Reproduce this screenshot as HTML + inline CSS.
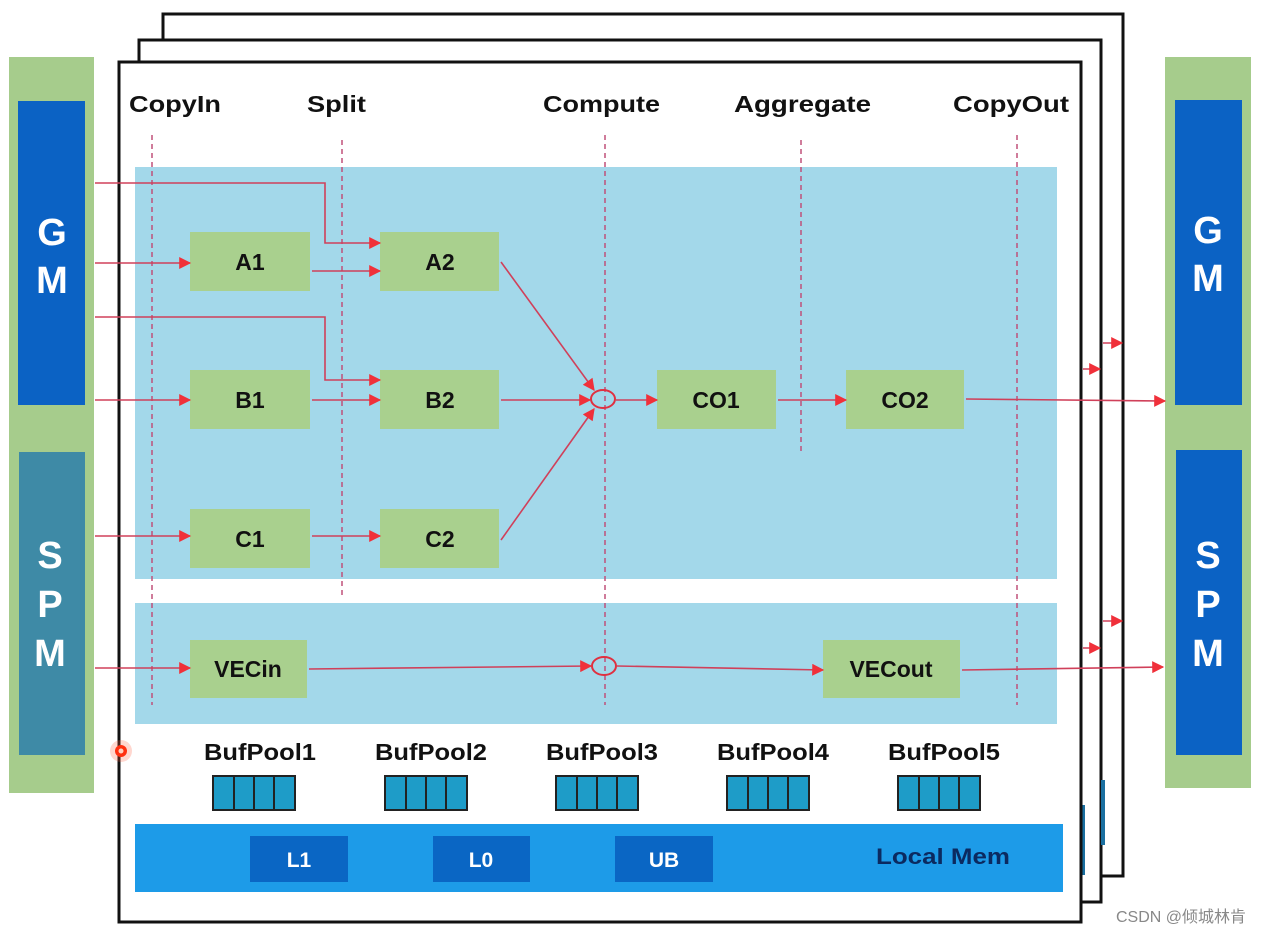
<!DOCTYPE html>
<html><head><meta charset="utf-8"><style>
html,body{margin:0;padding:0;background:#fff;width:1266px;height:934px;overflow:hidden}
svg{display:block}
text{font-family:"Liberation Sans","Noto Sans CJK SC",sans-serif;font-weight:bold}
</style></head><body>
<svg width="1266" height="934" viewBox="0 0 1266 934" xmlns="http://www.w3.org/2000/svg">
<defs>
<marker id="ar" viewBox="0 0 10 10" refX="9" refY="5" markerWidth="16" markerHeight="12" markerUnits="userSpaceOnUse" orient="auto">
<path d="M0,0 L10,5 L0,10 z" fill="#f0303a"/></marker>
</defs>
<rect x="163" y="14" width="960" height="862" fill="#fff" stroke="#111" stroke-width="3"/>
<rect x="139" y="40" width="962" height="862" fill="#fff" stroke="#111" stroke-width="3"/>
<rect x="1101" y="780" width="4" height="65" fill="#1a6fa0"/>
<rect x="1081" y="805" width="4" height="70" fill="#1a6fa0"/>
<rect x="119" y="62" width="962" height="860" fill="#fff" stroke="#111" stroke-width="3"/>
<rect x="9" y="57" width="85" height="736" fill="#a6cc8c"/>
<rect x="18" y="101" width="67" height="304" fill="#0b62c4"/>
<rect x="19" y="452" width="66" height="303" fill="#3e8aa6"/>
<rect x="1165" y="57" width="86" height="731" fill="#a6cc8c"/>
<rect x="1175" y="100" width="67" height="305" fill="#0b62c4"/>
<rect x="1176" y="450" width="66" height="305" fill="#0b62c4"/>
<g fill="#fff" font-size="38" text-anchor="middle">
<text x="52" y="245">G</text><text x="52" y="293">M</text>
<text x="50" y="568">S</text><text x="50" y="617">P</text><text x="50" y="666">M</text>
<text x="1208" y="243">G</text><text x="1208" y="291">M</text>
<text x="1208" y="568">S</text><text x="1208" y="617">P</text><text x="1208" y="666">M</text>
</g>
<rect x="135" y="167" width="922" height="412" fill="#a3d8ea"/>
<rect x="135" y="603" width="922" height="121" fill="#a3d8ea"/>
<g font-size="23" fill="#111" lengthAdjust="spacingAndGlyphs">
<text x="129" y="112" textLength="92" lengthAdjust="spacingAndGlyphs">CopyIn</text>
<text x="307" y="112" textLength="59" lengthAdjust="spacingAndGlyphs">Split</text>
<text x="543" y="112" textLength="117" lengthAdjust="spacingAndGlyphs">Compute</text>
<text x="734" y="112" textLength="137" lengthAdjust="spacingAndGlyphs">Aggregate</text>
<text x="953" y="112" textLength="116" lengthAdjust="spacingAndGlyphs">CopyOut</text>
</g>
<g stroke="#c0507a" stroke-width="1.5" stroke-dasharray="5,4">
<line x1="152" y1="135" x2="152" y2="705"/>
<line x1="342" y1="140" x2="342" y2="595"/>
<line x1="605" y1="135" x2="605" y2="705"/>
<line x1="801" y1="140" x2="801" y2="453"/>
<line x1="1017" y1="135" x2="1017" y2="705"/>
</g>
<g fill="#a9d08e">
<rect x="190" y="232" width="120" height="59"/>
<rect x="380" y="232" width="119" height="59"/>
<rect x="190" y="370" width="120" height="59"/>
<rect x="380" y="370" width="119" height="59"/>
<rect x="190" y="509" width="120" height="59"/>
<rect x="380" y="509" width="119" height="59"/>
<rect x="657" y="370" width="119" height="59"/>
<rect x="846" y="370" width="118" height="59"/>
<rect x="190" y="640" width="117" height="58"/>
<rect x="823" y="640" width="137" height="58"/>
</g>
<g font-size="23" fill="#111" text-anchor="middle">
<text x="250" y="270">A1</text><text x="440" y="270">A2</text>
<text x="250" y="408">B1</text><text x="440" y="408">B2</text>
<text x="250" y="547">C1</text><text x="440" y="547">C2</text>
<text x="716" y="408">CO1</text><text x="905" y="408">CO2</text>
<text x="248" y="677">VECin</text><text x="891" y="677">VECout</text>
</g>
<g stroke="#d0405a" stroke-width="1.6" fill="none">
<line x1="95" y1="263" x2="190" y2="263" marker-end="url(#ar)"/>
<line x1="95" y1="400" x2="190" y2="400" marker-end="url(#ar)"/>
<line x1="95" y1="536" x2="190" y2="536" marker-end="url(#ar)"/>
<line x1="95" y1="668" x2="190" y2="668" marker-end="url(#ar)"/>
<polyline points="95,183 325,183 325,243 380,243" marker-end="url(#ar)"/>
<polyline points="95,317 325,317 325,380 380,380" marker-end="url(#ar)"/>
<line x1="312" y1="271" x2="380" y2="271" marker-end="url(#ar)"/>
<line x1="312" y1="400" x2="380" y2="400" marker-end="url(#ar)"/>
<line x1="312" y1="536" x2="380" y2="536" marker-end="url(#ar)"/>
<line x1="501" y1="262" x2="594" y2="390" marker-end="url(#ar)"/>
<line x1="501" y1="400" x2="590" y2="400" marker-end="url(#ar)"/>
<line x1="501" y1="540" x2="594" y2="409" marker-end="url(#ar)"/>
<line x1="616" y1="400" x2="657" y2="400" marker-end="url(#ar)"/>
<line x1="778" y1="400" x2="846" y2="400" marker-end="url(#ar)"/>
<line x1="966" y1="399" x2="1165" y2="401" marker-end="url(#ar)"/>
<line x1="309" y1="669" x2="591" y2="666" marker-end="url(#ar)"/>
<line x1="617" y1="666" x2="823" y2="670" marker-end="url(#ar)"/>
<line x1="962" y1="670" x2="1163" y2="667" marker-end="url(#ar)"/>
<line x1="1083" y1="369" x2="1100" y2="369" marker-end="url(#ar)"/>
<line x1="1103" y1="343" x2="1122" y2="343" marker-end="url(#ar)"/>
<line x1="1083" y1="648" x2="1100" y2="648" marker-end="url(#ar)"/>
<line x1="1103" y1="621" x2="1122" y2="621" marker-end="url(#ar)"/>
</g>
<ellipse cx="603" cy="399" rx="12" ry="9" fill="none" stroke="#e03040" stroke-width="2"/>
<ellipse cx="604" cy="666" rx="12" ry="9" fill="none" stroke="#e03040" stroke-width="2"/>
<circle cx="121" cy="751" r="11" fill="#ff6040" opacity="0.25"/>
<circle cx="121" cy="751" r="6" fill="#ff3010"/>
<circle cx="121" cy="751" r="2.5" fill="#ffd0c0"/>
<g font-size="23" fill="#111">
<text x="204" y="760" textLength="112" lengthAdjust="spacingAndGlyphs">BufPool1</text>
<text x="375" y="760" textLength="112" lengthAdjust="spacingAndGlyphs">BufPool2</text>
<text x="546" y="760" textLength="112" lengthAdjust="spacingAndGlyphs">BufPool3</text>
<text x="717" y="760" textLength="112" lengthAdjust="spacingAndGlyphs">BufPool4</text>
<text x="888" y="760" textLength="112" lengthAdjust="spacingAndGlyphs">BufPool5</text>
</g>
<g fill="#1e9cc8" stroke="#222" stroke-width="2">
<g transform="translate(213,776)"><rect width="82" height="34"/><line x1="21" y1="0" x2="21" y2="34"/><line x1="41" y1="0" x2="41" y2="34"/><line x1="61" y1="0" x2="61" y2="34"/></g>
<g transform="translate(385,776)"><rect width="82" height="34"/><line x1="21" y1="0" x2="21" y2="34"/><line x1="41" y1="0" x2="41" y2="34"/><line x1="61" y1="0" x2="61" y2="34"/></g>
<g transform="translate(556,776)"><rect width="82" height="34"/><line x1="21" y1="0" x2="21" y2="34"/><line x1="41" y1="0" x2="41" y2="34"/><line x1="61" y1="0" x2="61" y2="34"/></g>
<g transform="translate(727,776)"><rect width="82" height="34"/><line x1="21" y1="0" x2="21" y2="34"/><line x1="41" y1="0" x2="41" y2="34"/><line x1="61" y1="0" x2="61" y2="34"/></g>
<g transform="translate(898,776)"><rect width="82" height="34"/><line x1="21" y1="0" x2="21" y2="34"/><line x1="41" y1="0" x2="41" y2="34"/><line x1="61" y1="0" x2="61" y2="34"/></g>
</g>
<rect x="135" y="824" width="928" height="68" fill="#1d9be8"/>
<rect x="250" y="836" width="98" height="46" fill="#0a66c4"/>
<rect x="433" y="836" width="97" height="46" fill="#0a66c4"/>
<rect x="615" y="836" width="98" height="46" fill="#0a66c4"/>
<g font-size="21" fill="#fff" text-anchor="middle">
<text x="299" y="867">L1</text><text x="481" y="867">L0</text><text x="664" y="867">UB</text>
</g>
<text x="876" y="864" font-size="22" fill="#0b2a60" textLength="134" lengthAdjust="spacingAndGlyphs">Local Mem</text>
<text x="1116" y="922" font-size="16" fill="#888" style="font-weight:normal">CSDN @倾城林肯</text>
</svg>
</body></html>
